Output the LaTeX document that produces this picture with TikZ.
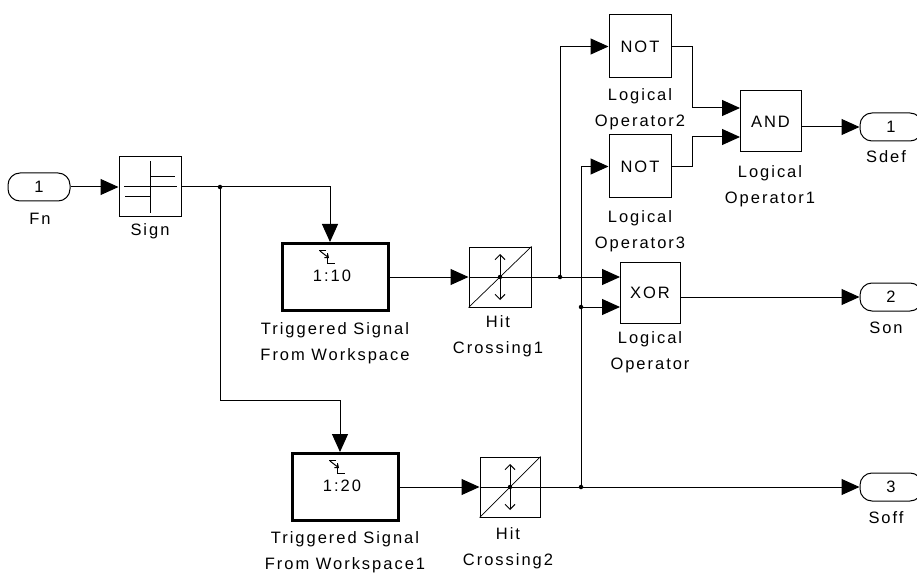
\documentclass[tikz,border=0pt]{standalone}
\usepackage{fontspec}
\setmainfont{Liberation Sans}
\newfontfamily\simfont[LetterSpace=12]{Liberation Sans}
\usetikzlibrary{arrows.meta}
\begin{document}
\begin{tikzpicture}[x=1pt,y=-1pt,
  font=\simfont\fontsize{16.5}{26}\selectfont,
  blk/.style={draw,line width=1pt,inner sep=0pt},
  tblk/.style={draw,line width=3.2pt,inner sep=0pt,minimum width=106pt,minimum height=67pt},
  port/.style={draw,line width=1pt,rounded corners=12pt,minimum width=62pt,minimum height=28pt,inner sep=0pt},
  lbl/.style={align=center,inner sep=0pt},
  wire/.style={line width=1pt},
  arr/.style={line width=1pt,-{Triangle[length=18pt,width=16pt]}},
  dot/.style={circle,fill,inner sep=0pt,minimum size=4.5pt}]
\useasboundingbox (0,0) rectangle (917,577);

% ---------- blocks ----------
\node[port] (fn) at (39,187) {1};
\node[lbl] (fnl) at (40,219) {Fn};

\node[blk,minimum width=62pt,minimum height=60pt] (sign) at (150,187) {};
\node[lbl] (signl) at (150,231) {Sign};
\draw[wire] ([xshift=-26pt]sign.center) -- ([xshift=27pt]sign.center);
\draw[wire] ([yshift=-26pt]sign.center) -- ([yshift=26pt]sign.center);
\draw[wire] (sign.center) ++(0,-10) -- ++(25,0);
\draw[wire] (sign.center) ++(0,10) -- ++(-25,0);

\node[tblk] (trig1) at (335.5,277) {};
\node[lbl] (trig1t) at (332,276) {1:10};
\node[lbl] (trig1l) at (335,343) {Triggered Signal\\From Workspace};

\node[tblk] (trig2) at (345.5,487) {};
\node[lbl] (trig2t) at (342,486) {1:20};
\node[lbl] (trig2l) at (345,552) {Triggered Signal\\From Workspace1};

% trigger glyphs
\foreach \cx/\cy in {327/256, 337/466}{
  \draw[line width=1pt] (\cx-8,\cy-6) -- (\cx-1,\cy-6);
  \draw[line width=1pt] (\cx,\cy-3) -- (\cx,\cy+7) -- (\cx+8,\cy+7);
  \draw[line width=1pt,-{Straight Barb[length=3pt,width=5pt]}] (\cx-7,\cy-5) -- (\cx+2,\cy+2);
}

\node[blk,minimum width=62pt,minimum height=60pt] (hit1) at (500,277) {};
\node[lbl] (hit1l) at (498,336) {Hit\\Crossing1};
\node[blk,minimum width=60pt,minimum height=60pt] (hit2) at (510,487) {};
\node[lbl] (hit2l) at (508,548) {Hit\\Crossing2};

\foreach \h in {hit1,hit2}{
  \draw[wire] (\h.west) -- (\h.east);
  \draw[line width=0.7pt] (\h.south west) -- (\h.north east);
  \draw[line width=1pt,{Straight Barb[length=5pt,width=10pt]}-{Straight Barb[length=5pt,width=10pt]}]
     ([yshift=-23pt]\h.center) -- ([yshift=23pt]\h.center);
  \fill (\h.center) circle (2.2pt);
}

\node[blk,minimum width=62pt,minimum height=63pt] (not2) at (640,46.5) {NOT};
\node[lbl] (not2l) at (640,109.5) {Logical\\Operator2};
\node[blk,minimum width=62pt,minimum height=63pt] (not3) at (640,166.5) {NOT};
\node[lbl] (not3l) at (640,231) {Logical\\Operator3};

\node[blk,minimum width=61pt,minimum height=61pt] (and) at (770.5,121.5) {AND};
\node[lbl] (andl) at (770,186) {Logical\\Operator1};

\node[blk,minimum width=60pt,minimum height=61pt] (xor) at (650,292.5) {XOR};
\node[lbl] (xorl) at (650,352.5) {Logical\\Operator};

\node[port] (sdef) at (891,127) {1};
\node[lbl] (sdefl) at (886,157) {Sdef};
\node[port] (son) at (891,297) {2};
\node[lbl] (sonl) at (886,328) {Son};
\node[port] (soff) at (891,487) {3};
\node[lbl] (soffl) at (886,518) {Soff};

% ---------- port coordinates ----------
\coordinate (and1) at (740,108);
\coordinate (and2) at (740,137);
\coordinate (xor1) at (620,277);
\coordinate (xor2) at (620,307);
\coordinate (t1in) at (330,242);
\coordinate (t2in) at (340,452);

% ---------- junctions ----------
\node[dot] (j1) at (220,187) {};
\node[dot] (j2) at (560,277) {};
\node[dot] (j3) at (581,487) {};
\node[dot] (j4) at (581,307) {};
\coordinate (b1) at (220,400);

% ---------- wires ----------
\draw[arr] (fn.east) -- (sign.west);
\draw[wire] (sign.east) -- (j1.center);
\draw[arr] (j1.center) -| (t1in);
\draw[arr] (j1.center) -- (b1) -| (t2in);

\draw[arr] (trig1.east |- 0,277) -- (hit1.west);
\draw[wire] (hit1.east) -- (j2.center);
\draw[arr] (j2.center) |- (not2.west);
\draw[arr] (j2.center) -- (xor1);

\draw[arr] (trig2.east |- 0,487) -- (hit2.west);
\draw[wire] (hit2.east) -- (j3.center);
\draw[arr] (j3.center) -- (soff.west);
\draw[arr] (j3.center) |- (not3.west);
\draw[arr] (j4.center) -- (xor2);

\draw[arr] (not2.east) -- ++(21,0) |- (and1);
\draw[arr] (not3.east) -- ++(21,0) |- (and2);
\draw[arr] (and.east |- sdef.west) -- (sdef.west);
\draw[arr] (xor.east |- son.west) -- (son.west);
\end{tikzpicture}
\end{document}
